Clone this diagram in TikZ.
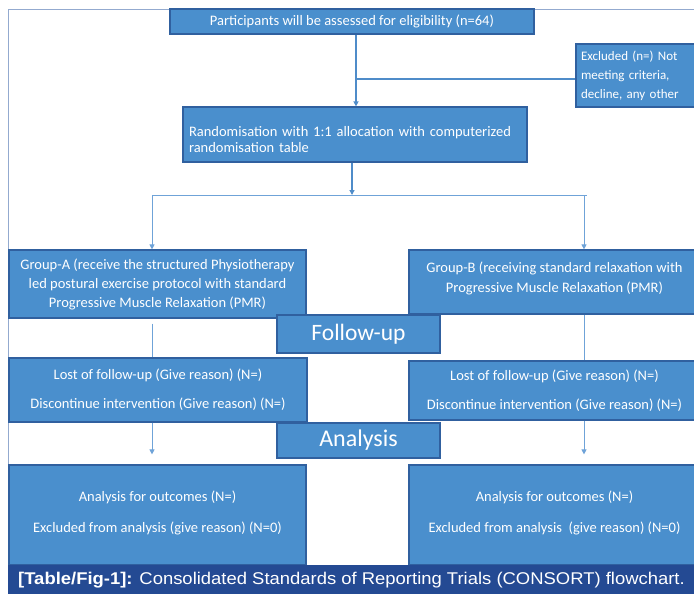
\documentclass[tikz,border=0pt]{standalone}
\usepackage{fontspec}
\setmainfont{Carlito}
\newfontfamily\capfont{Liberation Sans}
\usepackage{tikz}
\usetikzlibrary{arrows.meta}
\definecolor{boxfill}{HTML}{4A8FCD}
\definecolor{boxline}{HTML}{30609F}
\definecolor{flow}{HTML}{4F8CC9}
\definecolor{flowlight}{HTML}{6FA3D8}
\definecolor{frame}{HTML}{93AACF}
\definecolor{band}{HTML}{244A93}
\tikzset{
    box/.style={draw=boxline, line width=1.2pt, fill=boxfill, text=white,
        inner sep=0pt, align=center},
    tag/.style={box, font=\fontsize{23.5}{26}\selectfont},
    tip/.style={-{Triangle[length=5pt,width=5pt]}},
    link/.style={draw=flowlight, line width=1pt}
}

\begin{document}
\begin{tikzpicture}[x=1pt, y=-1pt, font=\fontsize{14.5}{17}\selectfont]
    \path[use as bounding box, clip] (0,0) rectangle (694,594);
    \draw[frame, line width=1pt] (8,594) -- (8,10) -- (694,10);
    \node[box, minimum width=364pt, minimum height=25pt](elig)    at (352,21.5) {Participants will be assessed for eligibility (n=64)};
    \node[box, minimum width=130pt, minimum height=63pt, align=left, text width=120pt,
          font=\fontsize{13}{19}\selectfont](excl)                 at (641,75.5) {\mbox{}\\[-9pt]Excluded (n=) Not\\meeting criteria,\\decline, any other};
    \node[box, minimum width=344pt, minimum height=55pt, align=left, text width=332pt,
          font=\fontsize{14.5}{16}\selectfont](rand)               at (355,134.5) {\mbox{}\\[4pt]Randomisation with 1:1 allocation with computerized\\randomisation table};
    \node[box, minimum width=297pt, minimum height=68pt,
          font=\fontsize{14.5}{19}\selectfont](grpA)               at (157.5,284) {Group-A (receive the structured Physiotherapy\\led postural exercise protocol with standard\\Progressive Muscle Relaxation (PMR)};
    \node[box, minimum width=291pt, minimum height=64pt,
          font=\fontsize{14.5}{20}\selectfont](grpB)               at (554.5,282) {Group-B (receiving standard relaxation with\\Progressive Muscle Relaxation (PMR)\\[-10pt]};
    \node[tag, minimum width=163pt, minimum height=38pt](follow)  at (358.5,334) {Follow-up};
    \node[box, minimum width=298pt, minimum height=64pt,
          font=\fontsize{14.5}{29}\selectfont](lostA)              at (158,390) {Lost of follow-up (Give reason) (N=)\\Discontinue intervention (Give reason) (N=)};
    \node[box, minimum width=291pt, minimum height=59pt,
          font=\fontsize{14.5}{29}\selectfont](lostB)              at (554.5,390.5) {Lost of follow-up (Give reason) (N=)\\Discontinue intervention (Give reason) (N=)};
    \node[tag, minimum width=163pt, minimum height=35pt,
          font=\fontsize{24}{26}\selectfont](anal)                 at (358.5,440.5) {Analysis};
    \node[box, minimum width=297pt, minimum height=100pt,
          font=\fontsize{14.5}{31}\selectfont](outA)               at (157.5,515) {Analysis for outcomes (N=)\\Excluded from analysis (give reason) (N=0)\\[-24pt]};
    \node[box, minimum width=291pt, minimum height=100pt,
          font=\fontsize{14.5}{31}\selectfont](outB)               at (554.5,515) {Analysis for outcomes (N=)\\Excluded from analysis\ \ (give reason) (N=0)\\[-24pt]};
    % Connectors
    \coordinate (join)  at (356,79);
    \coordinate (split) at (352,195);
    \coordinate (left)  at (152,195);
    \coordinate (right) at (584,195);
    \draw[flow, line width=1.6pt, tip] (elig.south -| join) -- (rand.north -| join);
    \draw[flow, line width=1.2pt] (join) -- (excl.west |- join);
    \draw[flow, line width=1.2pt, tip] (rand.south -| split) -- (split);
    \draw[link] (left) -- ([xshift=3pt]right);
    \draw[link, tip] (left) -- (grpA.north -| left);
    \draw[link, tip] (right) -- (grpB.north -| right);
    \draw[link] ([yshift=-5pt]grpA.south -| left) -- (lostA.north -| left);
    \draw[link] (grpB.south -| right) -- (lostB.north -| right);
    \draw[link, tip] (lostA.south -| left) -- ([yshift=10pt]outA.north -| left);
    \draw[link, tip] (lostB.south -| right) -- ([yshift=10pt]outB.north -| right);
    % Caption
    \fill[band] (8,565) rectangle (694,594);
    \node[anchor=west, text=white, inner sep=0pt, font=\capfont\fontsize{17}{20}\selectfont](cap)
        at (18,580) {\scalebox{1.085}[1]{\textbf{[Table/Fig-1]:} Consolidated Standards of Reporting Trials (CONSORT) flowchart.}};
\end{tikzpicture}
\end{document}
